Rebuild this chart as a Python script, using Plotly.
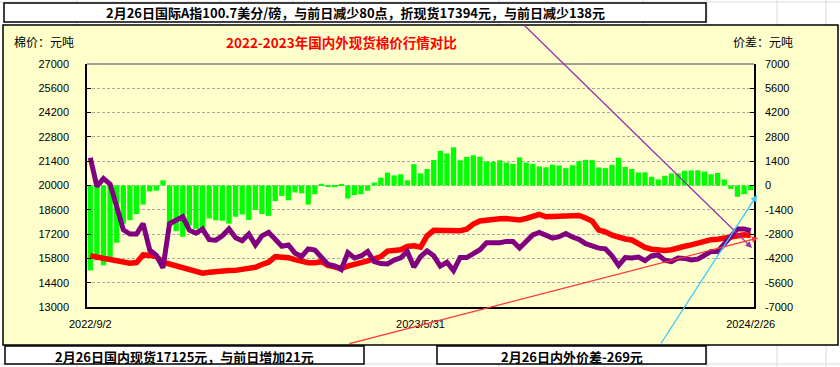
import plotly.graph_objects as go

# ---------------- data ----------------
domestic = [15950, 15870, 15800, 15720, 15630, 15550, 15520, 15560, 16000, 15980,
            15900, 15580, 15470, 15380, 15250, 15170, 15100, 14950, 15000, 15050,
            15070, 15100, 15110, 15150, 15250, 15290, 15450, 15580, 15900, 15900,
            15840, 15730, 15610, 15550, 15550, 15610, 15400, 15280, 15230, 15350,
            15480, 15560, 15660, 15780, 15900, 16220, 16280, 16300, 16490, 16530,
            16450, 17100, 17420, 17420, 17390, 17350, 17390, 17480, 17780, 17960,
            18020, 18060, 18090, 18100, 18020, 18010, 18100, 18250, 18330, 18200,
            18200, 18200, 18200, 18200, 18270, 18130, 17950, 17430, 17330, 17140,
            17000, 16920, 16860, 16600, 16430, 16330, 16280, 16260, 16300, 16440,
            16500, 16580, 16680, 16810, 16880, 16900, 16950, 17020, 17100, 17160,
            17125]

international = [21600, 19950, 20400, 20080, 18780, 17450, 17200, 17200, 17800, 16280,
                 15980, 15250, 17800, 18010, 18200, 17430, 17250, 17500, 16880, 16850,
                 17100, 17500, 16990, 16820, 17200, 16570, 17100, 17300, 16900, 16500,
                 16570, 16100, 15920, 16350, 16280, 15890, 15450, 15370, 15150, 16130,
                 15820, 15940, 16200, 15610, 15500, 15480, 15700, 15830, 16200, 15300,
                 15900, 16230, 15950, 15350, 15580, 15100, 15850, 15850, 16040, 16300,
                 16700, 16700, 16700, 16780, 16780, 16400, 16780, 17150, 17300, 17150,
                 16970, 17050, 17230, 17030, 16900, 16650, 16490, 16390, 16350, 15950,
                 15400, 15850, 15830, 15880, 15670, 15950, 16000, 15700, 15620, 15820,
                 15800, 15710, 15760, 15970, 16200, 16200, 16600, 17050, 17500, 17500,
                 17394]

spread = [-4900, -4300, -4600, -4400, -3300, -2200, -2000, -1650, -1100, -350,
          -300, 300, -2330, -2630, -2950, -2300, -2500, -2550, -1900, -2000,
          -2030, -2200, -1800, -1670, -1990, -1400, -1650, -1750, -900, -600,
          -850, -400, -450, -1100, -500, 100, -50, -90, 80, -750,
          -550, -500, -300, 170, 450, 740, 580, 650, 300, 1230,
          700, 950, 1470, 2000, 1850, 2200, 1450, 1650, 1740, 1660,
          1380, 1360, 1450, 1320, 1240, 1620, 1320, 1250, 1100, 1050,
          1200, 1150, 1000, 1170, 1400, 1480, 1460, 1040, 1000, 1190,
          1600, 1070, 950, 750, 760, 500, 350, 560, 700, 700,
          850, 870, 880, 800, 650, 720, 350, -200, -650, -500,
          -269]

x_labels = ["2022/9/2", "2023/5/31", "2024/2/26"]
left_ticks = [13000, 14400, 15800, 17200, 18600, 20000, 21400, 22800, 24200, 25600, 27000]
right_ticks = [-7000, -5600, -4200, -2800, -1400, 0, 1400, 2800, 4200, 5600, 7000]

top_text = "2月26日国际A指100.7美分/磅，与前日减少80点，折现货17394元，与前日减少138元"
title_text = "2022-2023年国内外现货棉价行情对比"
left_unit = "棉价：元吨"
right_unit = "价差：元吨"
bottom_left_text = "2月26日国内现货17125元，与前日增加21元"
bottom_right_text = "2月26日内外价差-269元"

# ---------------- figure ----------------
W, H = 840, 367
L, R, T, B = 87, 754, 64, 307          # plot area in pixels
pw, ph = R - L, B - T


def px(x):
    return (x - L) / pw


def py(y):
    return (B - y) / ph


idx = list(range(len(domestic)))
n = len(idx)
tick_pos = [0, (n - 1) // 2, n - 1]

fig = go.Figure()
fig.add_trace(go.Bar(x=idx, y=spread, marker=dict(color="#00FF00", line=dict(width=0)),
                     yaxis="y", name="价差"))
fig.add_trace(go.Scatter(x=idx, y=domestic, mode="lines", yaxis="y2",
                         line=dict(color="#FF0000", width=5.5), name="国内现货"))
fig.add_trace(go.Scatter(x=idx, y=international, mode="lines", yaxis="y2",
                         line=dict(color="#800080", width=5), name="国际现货"))

tickfont = dict(family="Liberation Sans, Arial, sans-serif", size=11, color="black")

fig.update_layout(
    width=W, height=H,
    margin=dict(l=L, r=W - R, t=T, b=H - B, pad=0),
    paper_bgcolor="white",
    plot_bgcolor="#FFFFCC",
    showlegend=False,
    bargap=0.2,
    hovermode=False,
    xaxis=dict(range=[-0.5, n - 0.5], tickvals=tick_pos, ticktext=x_labels,
               showgrid=False, zeroline=False, showline=True, linecolor="black",
               linewidth=1.5, ticks="", tickfont=tickfont, ticklabelstandoff=6),
    yaxis=dict(range=[-7000, 7000], side="right", tickvals=right_ticks,
               ticktext=[str(v) for v in right_ticks],
               showgrid=True, gridcolor="#A8A8A8", griddash="3px,2px", gridwidth=1,
               zeroline=False, showline=True, linecolor="black", linewidth=1.5,
               ticks="inside", ticklen=4, tickcolor="black", tickfont=tickfont,
               ticklabelstandoff=7),
    yaxis2=dict(range=[13000, 27000], side="left", overlaying="y",
                tickvals=left_ticks, ticktext=[str(v) for v in left_ticks],
                showgrid=False, zeroline=False, showline=True, linecolor="black",
                linewidth=1.5, ticks="inside", ticklen=4, tickcolor="black",
                tickfont=tickfont, ticklabelstandoff=14),
)

shapes = []
# excel sheet gridlines in the background
for gx in [77, 220, 293, 499, 572, 643, 707, 777, 826]:
    shapes.append(dict(type="line", xref="paper", yref="paper", x0=px(gx), x1=px(gx),
                       y0=py(367), y1=py(0), line=dict(color="#D9D9D9", width=1), layer="below"))
for gy in [2, 364]:
    shapes.append(dict(type="line", xref="paper", yref="paper", x0=px(0), x1=px(840),
                       y0=py(gy), y1=py(gy), line=dict(color="#D9D9D9", width=1), layer="below"))
# chart area
shapes.append(dict(type="rect", xref="paper", yref="paper", x0=px(3), x1=px(838),
                   y0=py(345), y1=py(25), fillcolor="#FFFFCC",
                   line=dict(color="black", width=1.5), layer="below"))
# top grey border of plot area
shapes.append(dict(type="line", xref="paper", yref="paper", x0=0, x1=1, y0=1, y1=1,
                   line=dict(color="#808080", width=1.5)))
# text boxes
for (x0, y0, x1, y1) in [(4, 3, 706, 22), (5, 346, 364, 364), (437, 346, 706, 364)]:
    shapes.append(dict(type="rect", xref="paper", yref="paper", x0=px(x0), x1=px(x1),
                       y0=py(y1), y1=py(y0), fillcolor="white",
                       line=dict(color="black", width=1.5), layer="above"))
fig.update_layout(shapes=shapes)

cjk = "Noto Sans CJK SC, sans-serif"
ann = [
    dict(x=px(355), y=py(13), text="<b>%s</b>" % top_text, font=dict(family=cjk, size=13, color="black")),
    dict(x=px(341), y=py(42), text="<b>%s</b>" % title_text, font=dict(family=cjk, size=13.5, color="#FF0000")),
    dict(x=px(43.5), y=py(42), text=left_unit, font=dict(family=cjk, size=12, color="black")),
    dict(x=px(762.5), y=py(42), text=right_unit, font=dict(family=cjk, size=12, color="black")),
    dict(x=px(184), y=py(356), text="<b>%s</b>" % bottom_left_text, font=dict(family=cjk, size=13, color="black")),
    dict(x=px(571.5), y=py(356), text="<b>%s</b>" % bottom_right_text, font=dict(family=cjk, size=13, color="black")),
]
annotations = []
for a in ann:
    a.update(xref="paper", yref="paper", showarrow=False, xanchor="center", yanchor="middle")
    annotations.append(a)

# pointer arrows
arrows = [
    ((752, 248), (523, 24), "#9933AA", 1.3, 2),
    ((758, 238), (348, 344), "#FF3333", 1.2, 2),
    ((757, 195), (660, 345), "#33CCFF", 1.3, 2),
]
for (tx, ty), (sx, sy), col, w, head in arrows:
    annotations.append(dict(xref="paper", yref="paper", x=px(tx), y=py(ty), text="",
                            showarrow=True, ax=sx - tx, ay=sy - ty, arrowcolor=col,
                            arrowwidth=w, arrowhead=head, arrowsize=1))
fig.update_layout(annotations=annotations)

fig.write_html("out.html", config={"displayModeBar": False},
               post_script="document.body.style.margin='0';document.body.style.overflow='hidden';")
